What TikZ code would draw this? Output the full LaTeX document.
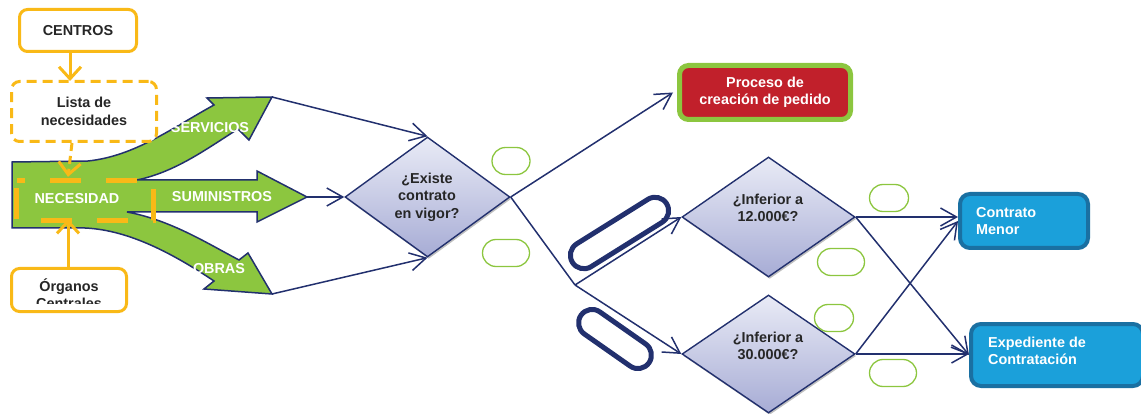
\documentclass[tikz,border=0pt]{standalone}
\usepackage{fontspec}
\setmainfont{Liberation Sans}
\usetikzlibrary{arrows.meta,shapes.geometric,shadows,calc}
\definecolor{navy}{HTML}{22306E}
\definecolor{leaf}{HTML}{8CC63F}
\definecolor{amber}{HTML}{F9B917}
\definecolor{brick}{HTML}{C1202B}
\definecolor{sky}{HTML}{1BA0DA}
\definecolor{skyedge}{HTML}{1A70A2}
\definecolor{diatop}{HTML}{E9EBF6}
\definecolor{diabot}{HTML}{A7ACD5}
\definecolor{ink}{HTML}{262626}
\begin{document}
\begin{tikzpicture}[x=1pt,y=-1pt,
  lbl/.style={font=\fontsize{14.4}{17.5}\selectfont\bfseries, align=center, inner sep=0pt},
  obox/.style={draw=amber, line width=3pt, rounded corners=8pt, fill=white, text=ink, lbl},
  oarr/.style={draw=amber, line width=3pt, -{Straight Barb[length=12pt,width=22pt]}},
  conn/.style={draw=navy, line width=1.5pt, -{Straight Barb[length=16pt,width=18pt]}},
  navyline/.style={draw=navy, line width=1.5pt},
  dia/.style={diamond, draw=navy, line width=1.4pt, top color=diatop, bottom color=diabot,
    inner sep=0pt, drop shadow={shadow xshift=1.2pt, shadow yshift=-2pt, fill=black!50}},
  oval/.style={draw=leaf, line width=1.3pt, rounded corners=13.5pt, minimum height=27pt, inner sep=0pt},
  pill/.style={draw=navy, line width=5pt, rounded corners=13.5pt, minimum height=27pt, inner sep=0pt},
  bluebox/.style={draw=skyedge, line width=4pt, fill=sky, rounded corners=10pt, inner sep=0pt}]
\useasboundingbox (0,0) rectangle (1141,414);

% three-way green arrow leaving the need block
\draw[navy, line width=1.5pt, fill=leaf, line join=miter]
  (12,162) -- (88,161)
  .. controls (135,156) and (172,128) .. (214,105)
  -- (207,98) -- (272,97) -- (249,140) -- (238,129)
  .. controls (205,150) and (175,172) .. (137,180)
  -- (257,180) -- (257,171) -- (307,197) -- (257,222) -- (257,212)
  -- (127,212)
  .. controls (170,220) and (205,242) .. (239,260)
  -- (248,253) -- (272,294) -- (204,289) -- (214,281)
  .. controls (175,255) and (130,230) .. (85,228)
  -- (12,228) -- cycle;
\coordinate (servTip) at (272,97);
\coordinate (sumTip) at (307,197);
\coordinate (obrTip) at (272,294);

\node[lbl, text=white] (servText) at (210,128) {SERVICIOS};
\node[lbl, text=white] (sumText) at (222,197) {SUMINISTROS};
\node[lbl, text=white] (obrText) at (219,269) {OBRAS};

% need block with its sources
\node[minimum width=136pt, minimum height=39pt, inner sep=0pt] (nec) at (85,200.5) {};
\draw[amber, line width=5pt, dash pattern=on 31pt off 25pt, dash phase=23pt]
  (nec.north west) -- (nec.north east) -- (nec.south east) -- (nec.south west) -- cycle;
\node[lbl, text=white] (necText) at (77,199) {NECESIDAD};

\node[obox, minimum width=117pt, minimum height=42pt] (centros) at (78,30.5) {CENTROS};
\node[obox, dash pattern=on 10pt off 6pt, minimum width=145pt, minimum height=60pt]
  (lista) at (84,111.5) {Lista de\\necesidades};
\node[obox, minimum width=115pt, minimum height=43pt] (organos) at (69,290) {};
\begin{scope}
  \clip (10,267) rectangle (128,303.5);
  \node[lbl, text=ink] (organosText) at (69,293.5) {Órganos\\Centrales};
\end{scope}

\draw[oarr] ([xshift=-8pt]centros.south) -- ([xshift=-14pt,yshift=-1pt]lista.north);
\draw[oarr, dash pattern=on 8pt off 5pt] ([xshift=-12pt]lista.south) -- ([xshift=-17pt,yshift=4pt]nec.north);
\draw[oarr] ([xshift=-1pt]organos.north) -- ([xshift=-17pt,yshift=1pt]nec.south);

% decisions
\node[dia, minimum width=165pt, minimum height=120pt] (q1) at (427.5,197) {};
\node[lbl, text=ink] (q1text) at (427,197) {¿Existe\\contrato\\en vigor?};
\node[dia, minimum width=173pt, minimum height=120pt] (q2) at (768.5,217) {};
\node[lbl, text=ink] (q2text) at (768,208) {¿Inferior a\\12.000€?};
\node[dia, minimum width=173pt, minimum height=118pt] (q3) at (768.5,354) {};
\node[lbl, text=ink] (q3text) at (768,346) {¿Inferior a\\30.000€?};

% outcomes
\node[draw=leaf, line width=5pt, fill=brick, rounded corners=9pt, minimum width=171pt,
  minimum height=54pt, lbl, text=white] (proc) at (765,92.5) {Proceso de\\creación de pedido};
\node[bluebox, minimum width=128pt, minimum height=54pt] (menor) at (1024,221) {};
\node[lbl, align=left, text=white, anchor=west] (menorText) at (976,221) {Contrato\\Menor};
\node[bluebox, minimum width=172pt, minimum height=62pt] (exped) at (1057,355) {};
\node[lbl, align=left, text=white, anchor=west] (expedText) at (988,351) {Expediente de\\Contratación};

% connectors
\coordinate (split) at (575,285);
\draw[conn] (servTip) -- (q1.north);
\draw[conn] (sumTip) -- (q1.west);
\draw[conn] (obrTip) -- (q1.south);
\draw[conn] (q1.east) -- ([xshift=-4pt]proc.west);
\draw[navyline] (q1.east) -- (split);
\draw[conn] (split) -- (q2.west);
\draw[conn] (split) -- (q3.west);
\draw[conn] (q2.east) -- (q2.east -| menor.west);
\draw[conn] (q2.east) -- (exped.west);
\draw[conn] (q3.east) -- (q3.east -| exped.west);
\draw[conn] (q3.east) -- (menor.west);

% empty answer tags
\node[oval, minimum width=38pt] (o1) at (511,161) {};
\node[oval, minimum width=47pt] (o2) at (506,253) {};
\node[oval, minimum width=39pt] (o3) at (889,198) {};
\node[oval, minimum width=47pt] (o4) at (841,262) {};
\node[oval, minimum width=39pt] (o5) at (834,318) {};
\node[oval, minimum width=47pt] (o6) at (893,373) {};

% empty dark tags
\node[pill, minimum width=111pt, rotate=32] (p1) at (619.5,233) {};
\node[pill, minimum width=83pt, rotate=-35] (p2) at (615,339) {};
\end{tikzpicture}
\end{document}
